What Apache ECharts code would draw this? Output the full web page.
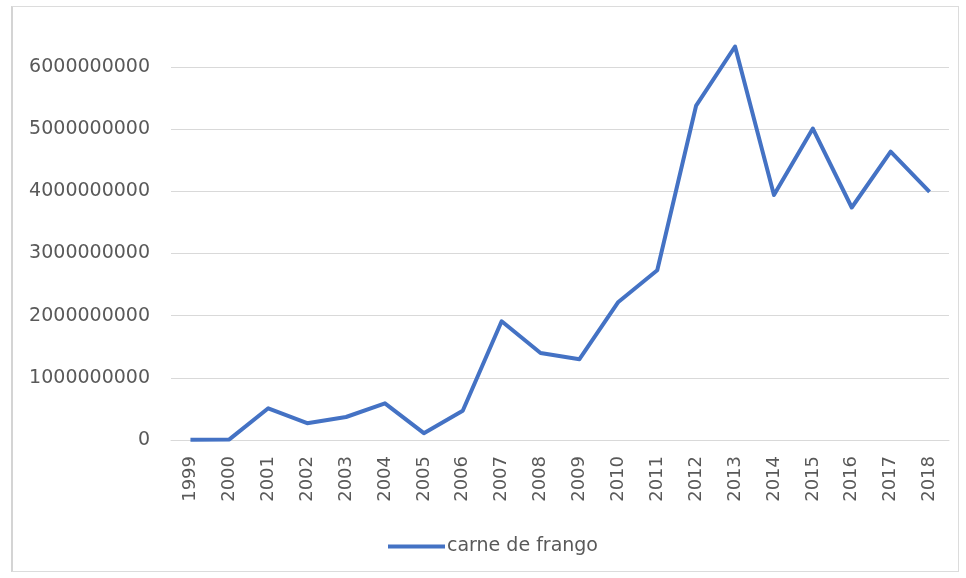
<!DOCTYPE html>
<html>
<head>
<meta charset="utf-8">
<script src="https://cdn.jsdelivr.net/npm/echarts@6/dist/echarts.min.js"></script>
<style>
  html, body { margin: 0; padding: 0; background: #fff; }
  #frame {
    position: absolute; left: 11px; top: 6px; width: 948px; height: 566px;
    border: 1px solid #dcdcdc; border-left: 2px solid #d4d4d4; box-sizing: border-box;
  }
  #chart { position: absolute; left: 0; top: 0; width: 966px; height: 578px; }
</style>
</head>
<body>
<div id="frame"></div>
<div id="chart"></div>
<script>
// anos e valores
const years = ['1999', '2000', '2001', '2002', '2003', '2004', '2005', '2006', '2007', '2008',
  '2009', '2010', '2011', '2012', '2013', '2014', '2015', '2016', '2017', '2018']
const frango = [5000000, 10000000, 510000000, 270000000, 370000000, 590000000, 110000000, 470000000,
  1910000000, 1400000000, 1300000000, 2220000000, 2730000000, 5380000000, 6330000000,
  3940000000, 5010000000, 3740000000, 4640000000, 3990000000]
const yTicks = { min: 0, max: 6000000000, interval: 1000000000 }

const chart = echarts.init(document.getElementById('chart'))
const gray = '#595959'
const font = 'DejaVu Sans'

chart.setOption({
  animation: false,
  grid: { left: 171, right: 17, top: 67, bottom: 138, containLabel: false },
  legend: {
    bottom: 22,
    left: 388,
    itemWidth: 57,
    itemHeight: 4,
    itemGap: 0,
    padding: 0,
    icon: 'rect',
    textStyle: { color: gray, fontSize: 19, fontFamily: font, padding: [0, 0, 0, -3] },
    data: ['carne de frango'],
  },
  xAxis: {
    type: 'category',
    data: years,
    boundaryGap: true,
    axisLine: { lineStyle: { color: '#d9d9d9', width: 1 } },
    axisTick: { show: false },
    axisLabel: { rotate: 90, color: gray, fontSize: 18, fontFamily: font, margin: 16, interval: 0 },
  },
  yAxis: {
    type: 'value',
    min: yTicks.min,
    max: yTicks.max,
    interval: yTicks.interval,
    axisLine: { show: false },
    axisTick: { show: false },
    splitLine: { lineStyle: { color: '#d9d9d9', width: 1 } },
    axisLabel: { color: gray, fontSize: 19, fontFamily: font, margin: 21, formatter: (v) => String(v) },
  },
  series: [
    {
      name: 'carne de frango',
      type: 'line',
      data: frango,
      clip: false,
      symbol: 'none',
      lineStyle: { color: '#4472C4', width: 4, join: 'round' },
      itemStyle: { color: '#4472C4' },
    },
  ],
})
</script>
</body>
</html>
